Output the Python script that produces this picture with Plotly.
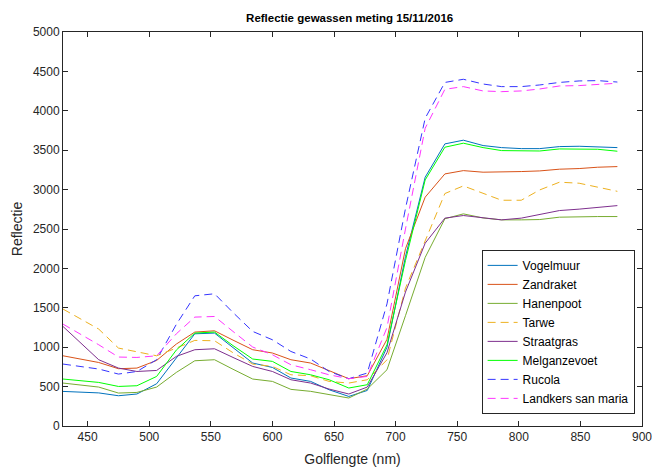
import plotly.graph_objects as go

wavelengths = [430, 459, 475, 490, 506, 522, 537, 553, 568, 584, 600, 615, 631, 646, 662,
               677, 693, 708, 724, 740, 755, 771, 786, 802, 817, 833, 849, 864, 880]

vogelmuur = [439, 420, 384, 406, 536, 862, 1170, 1179, 990, 799, 743, 609, 566, 460, 375,
             451, 1000, 2150, 3157, 3580, 3627, 3559, 3533, 3520, 3520, 3546, 3550, 3546, 3533]
zandraket = [891, 806, 727, 735, 832, 1040, 1192, 1208, 1090, 968, 926, 841, 799, 701, 600,
             638, 1100, 2250, 2904, 3199, 3241, 3221, 3221, 3229, 3237, 3259, 3267, 3284, 3292]
hanenpoot = [545, 494, 418, 426, 494, 680, 828, 841, 720, 596, 566, 465, 440, 397, 355,
             469, 714, 1400, 2140, 2630, 2692, 2640, 2616, 2616, 2620, 2650, 2658, 2658, 2658]
tarwe = [1484, 1230, 989, 946, 891, 989, 1086, 1082, 930, 786, 756, 650, 638, 566, 545,
         587, 840, 1750, 2350, 2950, 3047, 2954, 2865, 2865, 2996, 3094, 3081, 3031, 2978]
straatgras = [1263, 841, 735, 692, 705, 883, 968, 980, 870, 756, 692, 587, 545, 469, 406,
              494, 930, 1700, 2320, 2638, 2671, 2640, 2616, 2638, 2680, 2734, 2752, 2775, 2797]
melganzevoet = [596, 553, 502, 511, 629, 964, 1179, 1192, 1020, 850, 820, 692, 650, 587, 482,
                524, 1030, 2100, 3123, 3538, 3589, 3533, 3495, 3490, 3490, 3516, 3516, 3512, 3487]
rucola = [786, 723, 659, 692, 841, 1290, 1652, 1678, 1440, 1200, 1094, 946, 850, 692, 600,
          672, 1550, 2760, 3906, 4360, 4400, 4340, 4307, 4307, 4328, 4360, 4379, 4383, 4365]
landkers = [1293, 1031, 875, 870, 891, 1170, 1382, 1390, 1200, 1002, 904, 777, 714, 650, 600,
            629, 1250, 2500, 3779, 4273, 4307, 4252, 4243, 4252, 4277, 4315, 4320, 4337, 4350]

series = [
    ("Vogelmuur", vogelmuur, "#0072BD", "solid"),
    ("Zandraket", zandraket, "#D95319", "solid"),
    ("Hanenpoot", hanenpoot, "#77AC30", "solid"),
    ("Tarwe", tarwe, "#EDB120", "8px,5px"),
    ("Straatgras", straatgras, "#7E2F8E", "solid"),
    ("Melganzevoet", melganzevoet, "#00FF00", "solid"),
    ("Rucola", rucola, "#3535FF", "8px,5px"),
    ("Landkers san maria", landkers, "#FF35FF", "8px,5px"),
]

fig = go.Figure()
for name, vals, color, dash in series:
    fig.add_trace(go.Scatter(x=wavelengths, y=vals, mode="lines", name=name,
                             line=dict(color=color, width=1, dash=dash)))

axis_common = dict(showline=True, linecolor="#262626", linewidth=1, mirror="ticks",
                   ticks="inside", ticklen=5, tickcolor="#262626", showgrid=False,
                   zeroline=False, tickfont=dict(size=12, color="#262626"))

# The page body has an 8px margin, so the figure is sized to fit inside the 660x468 window.
fig.update_layout(
    width=652, height=460,
    margin=dict(l=55, r=18, t=24, b=42),
    paper_bgcolor="white", plot_bgcolor="white",
    font=dict(family="Liberation Sans, Arial, sans-serif", color="#262626"),
    title=dict(text="<b>Reflectie gewassen meting 15/11/2016</b>", x=0.524, xref="container",
               xanchor="center", y=0.978, yref="container", yanchor="middle",
               font=dict(size=11.5, color="black")),
    xaxis=dict(range=[430, 900], tickvals=[450, 500, 550, 600, 650, 700, 750, 800, 850, 900],
               title=dict(text="Golflengte (nm)", font=dict(size=14, color="#262626"), standoff=10),
               automargin=False, **axis_common),
    yaxis=dict(range=[0, 5000], dtick=500,
               title=dict(text="Reflectie", font=dict(size=14, color="#262626"), standoff=6),
               automargin=False, **axis_common),
    legend=dict(x=0.723, y=0.447, xanchor="left", yanchor="top", bgcolor="white",
                bordercolor="#262626", borderwidth=1, font=dict(size=12, color="black"),
                tracegroupgap=0, itemwidth=30),
    showlegend=True,
)

fig.write_html("out.html")
